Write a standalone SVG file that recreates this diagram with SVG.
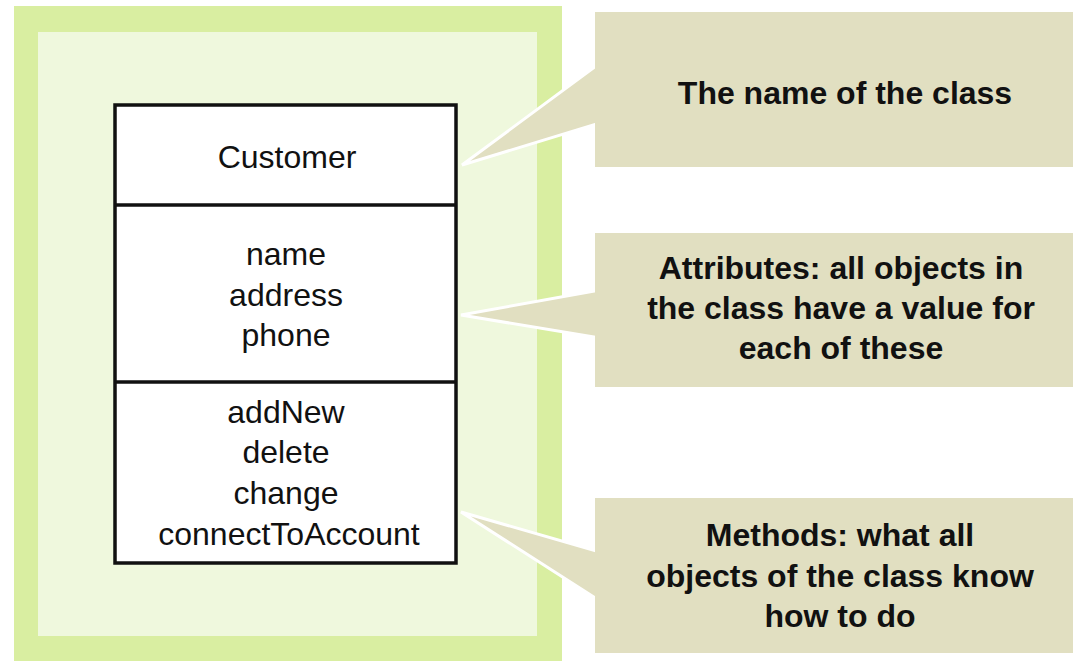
<svg xmlns="http://www.w3.org/2000/svg" width="1073" height="661" viewBox="0 0 1073 661">
  <style>
    .frame-outer { fill: #d9eea1; }
    .frame-inner { fill: #eff8dd; }
    .cls-box { fill: #ffffff; stroke: #111111; stroke-width: 3.5; }
    .cls-div { stroke: #111111; stroke-width: 3.5; }
    .cls-text { font-family: "Liberation Sans", Arial, sans-serif; font-size: 32px; fill: #111111; text-anchor: middle; }
    .note-box { fill: #e1dfc1; }
    .pointer { fill: #e1dfc1; stroke: #ffffff; stroke-width: 3; stroke-linejoin: miter; }
    .note-text { font-family: "Liberation Sans", Arial, sans-serif; font-size: 32px; font-weight: bold; fill: #111111; text-anchor: middle; }
  </style>

  <rect width="1073" height="661" fill="#ffffff"/>

  <!-- background frame around the class -->
  <g id="frame">
    <rect class="frame-outer" x="14" y="6" width="548" height="655"/>
    <rect class="frame-inner" x="38" y="32" width="499" height="604"/>
  </g>

  <!-- UML class box with its three compartments -->
  <g id="class-customer">
    <rect class="cls-box" x="115" y="105" width="341" height="458"/>
    <line class="cls-div" x1="115" y1="205" x2="456" y2="205"/>
    <line class="cls-div" x1="115" y1="382" x2="456" y2="382"/>
    <text class="cls-text" x="287" y="168">Customer</text>
    <text class="cls-text" x="286" y="265">name</text>
    <text class="cls-text" x="286" y="306">address</text>
    <text class="cls-text" x="286" y="346">phone</text>
    <text class="cls-text" x="286" y="423">addNew</text>
    <text class="cls-text" x="286" y="463">delete</text>
    <text class="cls-text" x="286" y="504">change</text>
    <text class="cls-text" x="289" y="545">connectToAccount</text>
  </g>

  <!-- callout pointers -->
  <g id="connectors">
    <polygon class="pointer" points="600,63 462,165 600,123"/>
    <polygon class="pointer" points="600,290 461,315 600,338"/>
    <polygon class="pointer" points="600,552 461,512 600,601"/>
  </g>

  <g id="note-name">
    <rect class="note-box" x="595" y="12" width="478" height="155"/>
    <text class="note-text" x="845" y="104">The name of the class</text>
  </g>

  <g id="note-attributes">
    <rect class="note-box" x="595" y="233" width="478" height="154"/>
    <text class="note-text" x="841" y="279">Attributes: all objects in</text>
    <text class="note-text" x="841" y="319">the class have a value for</text>
    <text class="note-text" x="841" y="359">each of these</text>
  </g>

  <g id="note-methods">
    <rect class="note-box" x="595" y="498" width="478" height="155"/>
    <text class="note-text" x="840" y="546">Methods: what all</text>
    <text class="note-text" x="840" y="587">objects of the class know</text>
    <text class="note-text" x="840" y="627">how to do</text>
  </g>
</svg>
